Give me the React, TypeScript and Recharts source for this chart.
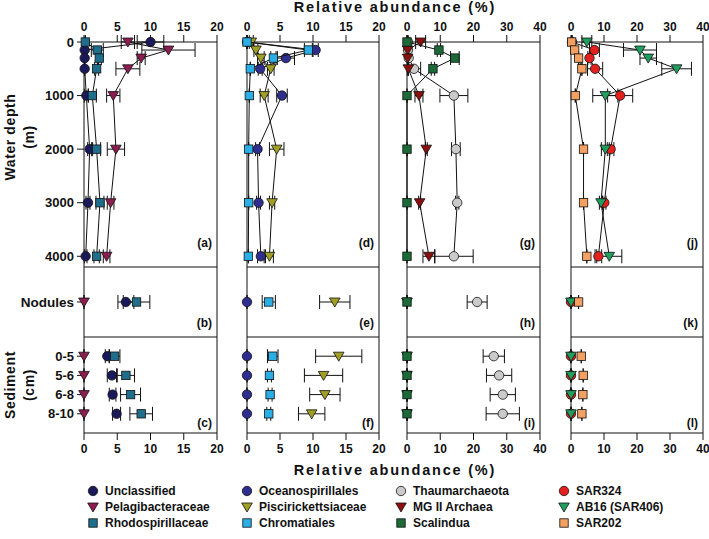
import React from 'react';
import { ScatterChart, Scatter, XAxis, YAxis, ErrorBar } from 'recharts';

const FONT = '"Liberation Sans", Arial, Helvetica, sans-serif';
const INK = '#111';

// depth profile rows (m), sediment layers (cm)
const depths = [0, 150, 300, 500, 1000, 2000, 3000, 4000];
const depthTicks = [0, 1000, 2000, 3000, 4000];
const sedimentLayers = ['0-5', '5-6', '6-8', '8-10'];
const ticks20 = [0, 5, 10, 15, 20];
const ticks40 = [0, 10, 20, 30, 40];

// relative abundance (%) — water column / nodules / sediment, with error
const unclassifiedWater = [10, 0.1, 0.1, 0.1, 0.35, 0.85, 0.6, 0.25];
const unclassifiedWaterErr = [2, 0, 0, 0, 0.3, 0.3, 0.3, 0.2];
const unclassifiedNod = [6.3, 1.2];
const unclassifiedSed = [3.5, 4.2, 4.3, 4.9];
const unclassifiedSedErr = [0.3, 0.7, 0.5, 0.6];

const pelagiWater = [6.6, 12.7, 8.6, 6.6, 4.4, 4.8, 4.0, 3.4];
const pelagiWaterErr = [1.0, 4, 0.6, 1.8, 1.0, 1.3, 0.5, 0.5];
const pelagiNod = [0, 0];
const pelagiSed = [0, 0, 0, 0];
const pelagiSedErr = [0, 0, 0, 0];

const rhodoWater = [0.2, 2.0, 2.3, 1.9, 1.25, 1.9, 2.4, 1.9];
const rhodoWaterErr = [0, 0.9, 0.3, 0.3, 0.6, 0.6, 0.6, 0.4];
const rhodoNod = [7.9, 2];
const rhodoSed = [4.6, 6.3, 7.0, 8.6];
const rhodoSedErr = [0.8, 1.3, 1.5, 1.7];

const oceanoWater = [0, 10.4, 5.9, 2.0, 5.3, 1.6, 1.75, 2.1];
const oceanoWaterErr = [0, 0.4, 1.3, 0.3, 0.8, 0.3, 0.3, 0.5];
const oceanoNod = [0, 0];
const oceanoSed = [0, 0, 0, 0];
const oceanoSedErr = [0, 0, 0, 0];

const pisciWater = [0.65, 1.35, 2.1, 3.6, 2.6, 4.5, 3.8, 3.4];
const pisciWaterErr = [0.3, 0.3, 0.5, 0.5, 0.6, 1.1, 0.4, 0.6];
const pisciNod = [13.3, 2.3];
const pisciSed = [13.9, 11.6, 11.8, 9.8];
const pisciSedErr = [3.5, 2.9, 2.3, 2.0];

const chromWater = [0, 9.3, 4.0, 0.5, 0.35, 0.25, 0.25, 0.2];
const chromWaterErr = [0, 0.6, 0.4, 0, 0, 0, 0, 0];
const chromNod = [3.3, 1];
const chromSed = [3.9, 3.4, 3.5, 3.3];
const chromSedErr = [0.8, 0.3, 0.3, 0.3];

const thaumWater = [0.3, 0.3, 0.5, 2.1, 14.1, 14.7, 15.1, 14.1];
const thaumWaterErr = [0, 0, 0, 2, 4.2, 1.3, 0.5, 5.8];
const thaumNod = [21.1, 3];
const thaumSed = [26.1, 27.7, 28.8, 28.8];
const thaumSedErr = [3.2, 3.8, 3.8, 5];

const mg2Water = [4.1, 0.2, 0.2, 0.4, 3.6, 5.8, 3.8, 6.6];
const mg2WaterErr = [1.5, 0, 0, 0, 1.2, 0.3, 0.3, 1.8];
const mg2Nod = [0, 0];
const mg2Sed = [0, 0, 0, 0];
const mg2SedErr = [0, 0, 0, 0];

const scalinduaWater = [0, 9.6, 14.4, 7.8, 0, 0, 0, 0];
const scalinduaWaterErr = [0, 0.5, 1.3, 0.5, 0, 0, 0, 0];
const scalinduaNod = [0, 0];
const scalinduaSed = [0, 0, 0, 0];
const scalinduaSedErr = [0, 0, 0, 0];

const sar324Water = [0.3, 7.1, 5.6, 7.3, 14.9, 12.0, 10.1, 8.3];
const sar324WaterErr = [0, 1.5, 0.5, 2.3, 3.8, 1.0, 0.5, 1.0];
const sar324Nod = [0, 0];
const sar324Sed = [0, 0, 0, 0];
const sar324SedErr = [0, 0, 0, 0];

const ab16Water = [4.8, 20.9, 23.4, 32, 10.4, 10.4, 9.1, 11.6];
const ab16WaterErr = [1.5, 5, 2.5, 4.5, 3.8, 1.2, 0.5, 3.8];
const ab16Nod = [0, 0];
const ab16Sed = [0, 0, 0, 0];
const ab16SedErr = [0, 0, 0, 0];

const sar202Water = [0.2, 1.1, 2.3, 3.3, 1.3, 3.8, 3.8, 4.8];
const sar202WaterErr = [0, 0, 0, 0, 0, 0, 0, 0];
const sar202Nod = [2.3, 0];
const sar202Sed = [3.1, 3.7, 3.6, 3.3];
const sar202SedErr = [0, 0, 0, 0];

type Kind = 'circle' | 'tri' | 'square';

const taxa = [
  { name: 'Unclassified', kind: 'circle', color: '#1a1a5a', water: unclassifiedWater, waterErr: unclassifiedWaterErr, nod: unclassifiedNod, sed: unclassifiedSed, sedErr: unclassifiedSedErr },
  { name: 'Pelagibacteraceae', kind: 'tri', color: '#8c1d50', water: pelagiWater, waterErr: pelagiWaterErr, nod: pelagiNod, sed: pelagiSed, sedErr: pelagiSedErr },
  { name: 'Rhodospirillaceae', kind: 'square', color: '#1f6e8c', water: rhodoWater, waterErr: rhodoWaterErr, nod: rhodoNod, sed: rhodoSed, sedErr: rhodoSedErr },
  { name: 'Oceanospirillales', kind: 'circle', color: '#2e2e8e', water: oceanoWater, waterErr: oceanoWaterErr, nod: oceanoNod, sed: oceanoSed, sedErr: oceanoSedErr },
  { name: 'Piscirickettsiaceae', kind: 'tri', color: '#a09e25', water: pisciWater, waterErr: pisciWaterErr, nod: pisciNod, sed: pisciSed, sedErr: pisciSedErr },
  { name: 'Chromatiales', kind: 'square', color: '#2aaee6', water: chromWater, waterErr: chromWaterErr, nod: chromNod, sed: chromSed, sedErr: chromSedErr },
  { name: 'Thaumarchaeota', kind: 'circle', color: '#cacaca', water: thaumWater, waterErr: thaumWaterErr, nod: thaumNod, sed: thaumSed, sedErr: thaumSedErr },
  { name: 'MG II Archaea', kind: 'tri', color: '#8a1010', water: mg2Water, waterErr: mg2WaterErr, nod: mg2Nod, sed: mg2Sed, sedErr: mg2SedErr },
  { name: 'Scalindua', kind: 'square', color: '#1b6a38', water: scalinduaWater, waterErr: scalinduaWaterErr, nod: scalinduaNod, sed: scalinduaSed, sedErr: scalinduaSedErr },
  { name: 'SAR324', kind: 'circle', color: '#e2211f', water: sar324Water, waterErr: sar324WaterErr, nod: sar324Nod, sed: sar324Sed, sedErr: sar324SedErr },
  { name: 'AB16 (SAR406)', kind: 'tri', color: '#1f9e5e', water: ab16Water, waterErr: ab16WaterErr, nod: ab16Nod, sed: ab16Sed, sedErr: ab16SedErr },
  { name: 'SAR202', kind: 'square', color: '#f3a062', water: sar202Water, waterErr: sar202WaterErr, nod: sar202Nod, sed: sar202Sed, sedErr: sar202SedErr },
];

const cols = [
  { x0: 84, x1: 217, max: 20, ticks: ticks20, members: [0, 1, 2], letters: ['(a)', '(b)', '(c)'] },
  { x0: 247, x1: 379, max: 20, ticks: ticks20, members: [3, 4, 5], letters: ['(d)', '(e)', '(f)'] },
  { x0: 407, x1: 540, max: 40, ticks: ticks40, members: [6, 7, 8], letters: ['(g)', '(h)', '(i)'] },
  { x0: 571, x1: 703, max: 40, ticks: ticks40, members: [9, 10, 11], letters: ['(j)', '(k)', '(l)'] },
];
const rows = [
  { y0: 42, y1: 267, letterY: 243 },
  { y0: 267, y1: 337, letterY: 323 },
  { y0: 337, y1: 433, letterY: 423 },
];

const Marker = ({ cx, cy, kind, fill }: { cx: number; cy: number; kind: Kind; fill: string }) => {
  if (kind === 'circle') return <circle cx={cx} cy={cy} r={4.7} fill={fill} stroke={INK} strokeWidth={0.8} />;
  if (kind === 'square') return <rect x={cx - 4.2} y={cy - 4.2} width={8.4} height={8.4} fill={fill} stroke={INK} strokeWidth={0.8} />;
  return (
    <polygon
      points={`${cx - 5.3},${cy - 4} ${cx + 5.3},${cy - 4} ${cx},${cy + 5}`}
      fill={fill}
      stroke={INK}
      strokeWidth={0.8}
    />
  );
};

const errPair = (v: number, e: number) => [Math.min(e, v), e];

const seriesData = (t: any, ri: number) => {
  if (ri === 0) return depths.map((d, i) => ({ x: t.water[i], y: d, err: errPair(t.water[i], t.waterErr[i]) }));
  if (ri === 1) return [{ x: t.nod[0], y: 1, err: errPair(t.nod[0], t.nod[1]) }];
  return sedimentLayers.map((_, i) => ({ x: t.sed[i], y: i + 1, err: errPair(t.sed[i], t.sedErr[i]) }));
};

// anchor point so the frame axes (bottom / right) get a domain and render
const frameAnchor = [{ x: 0, y: 0 }];

const tickFont = { fontSize: 12, fontWeight: 700, fill: INK, fontFamily: FONT };

function Panel({ ci, ri }: { ci: number; ri: number }) {
  const col = cols[ci];
  const row = rows[ri];
  const w = col.x1 - col.x0;
  const h = row.y1 - row.y0;
  const bottomArea = ri === 2 ? 40 : 10;

  let yProps: any;
  if (ri === 0) yProps = { domain: [0, 4200], ticks: depthTicks, reversed: true };
  else if (ri === 1) yProps = { domain: [0, 2], ticks: [1], tickFormatter: () => 'Nodules' };
  else yProps = { domain: [0, 5], ticks: [1, 2, 3, 4], reversed: true, tickFormatter: (v: number) => sedimentLayers[v - 1] };

  const yTick = ci === 0 ? { ...tickFont, fontSize: ri === 1 ? 13.5 : 13 } : false;

  return (
    <div style={{ position: 'absolute', left: col.x0 - 80, top: row.y0 - 40 }}>
      <ScatterChart
        width={80 + w + 10}
        height={40 + h + bottomArea}
        margin={{ top: 0, right: 8, bottom: ri === 2 ? 0 : 10, left: 0 }}
      >
        <XAxis
          xAxisId="t"
          orientation="top"
          type="number"
          dataKey="x"
          domain={[0, col.max]}
          ticks={col.ticks}
          interval={0}
          height={40}
          stroke={INK}
          tickSize={7}
          tickMargin={4}
          tick={ri === 0 ? tickFont : false}
        />
        <XAxis
          xAxisId="b"
          orientation="bottom"
          type="number"
          dataKey="x"
          domain={[0, col.max]}
          ticks={col.ticks}
          interval={0}
          height={ri === 2 ? 40 : 0}
          hide={ri !== 2}
          stroke={INK}
          tickSize={7}
          tickMargin={4}
          tick={tickFont}
        />
        <YAxis
          yAxisId="l"
          type="number"
          dataKey="y"
          width={80}
          interval={0}
          stroke={INK}
          tickSize={7}
          tickMargin={3}
          tick={yTick}
          {...yProps}
        />
        <YAxis
          yAxisId="r"
          orientation="right"
          type="number"
          dataKey="y"
          domain={[0, 1]}
          ticks={[0, 1]}
          width={2}
          stroke={INK}
          tickSize={0}
          tick={false}
          tickLine={false}
        />
        <Scatter
          xAxisId="b"
          yAxisId="r"
          data={frameAnchor}
          isAnimationActive={false}
          legendType="none"
          shape={() => <g />}
        />
        {col.members.map((ti) => {
          const t = taxa[ti];
          return (
            <Scatter
              key={t.name}
              name={t.name}
              xAxisId="t"
              yAxisId="l"
              data={seriesData(t, ri)}
              fill={t.color}
              line={ri === 0 ? { stroke: INK, strokeWidth: 1 } : false}
              isAnimationActive={false}
              shape={(p: any) => <Marker cx={p.cx} cy={p.cy} kind={t.kind as Kind} fill={t.color} />}
            >
              <ErrorBar dataKey="err" direction="x" width={7} stroke={INK} strokeWidth={1} isAnimationActive={false} />
            </Scatter>
          );
        })}
      </ScatterChart>
      <div
        style={{
          position: 'absolute',
          left: 80 + w - 57,
          width: 52,
          top: row.letterY - row.y0 + 40 - 8,
          textAlign: 'right',
          fontFamily: FONT,
          fontWeight: 700,
          fontSize: 12,
          lineHeight: '16px',
          color: INK,
        }}
      >
        {col.letters[ri]}
      </div>
    </div>
  );
}

const textBase: React.CSSProperties = {
  position: 'absolute',
  fontFamily: FONT,
  fontWeight: 700,
  color: INK,
  whiteSpace: 'nowrap',
};

const Rotated = ({ text, x, y }: { text: string; x: number; y: number }) => (
  <div
    style={{
      ...textBase,
      fontSize: 14,
      left: x,
      top: y,
      transform: 'translate(-50%, -50%) rotate(-90deg)',
      letterSpacing: 0.6,
    }}
  >
    {text}
  </div>
);

const legendX = [93, 247, 401, 564];
const legendY = [491, 507, 523];

export default function App() {
  return (
    <div style={{ position: 'absolute', left: 0, top: 0, width: 709, height: 539, background: '#fff', overflow: 'hidden' }}>
      {rows.map((_, ri) => cols.map((__, ci) => <Panel key={`${ri}-${ci}`} ci={ci} ri={ri} />))}

      <div style={{ ...textBase, fontSize: 14.5, left: 395, top: 7, transform: 'translate(-50%, -50%)', letterSpacing: 1.8 }}>
        Relative abundance (%)
      </div>
      <div style={{ ...textBase, fontSize: 14.5, left: 395, top: 470, transform: 'translate(-50%, -50%)', letterSpacing: 1.8 }}>
        Relative abundance (%)
      </div>

      <Rotated text="Water depth" x={10} y={137} />
      <Rotated text="(m)" x={29} y={137} />
      <Rotated text="Sediment" x={10} y={385} />
      <Rotated text="(cm)" x={29} y={385} />

      {taxa.map((t, i) => {
        const c = Math.floor(i / 3);
        const r = i % 3;
        return (
          <div key={t.name} style={{ position: 'absolute', left: legendX[c], top: legendY[r] }}>
            <svg width={12} height={12} style={{ position: 'absolute', left: -6, top: -6 }}>
              <Marker cx={6} cy={6} kind={t.kind as Kind} fill={t.color} />
            </svg>
            <div style={{ ...textBase, fontSize: 12, left: 12, top: -8, lineHeight: '16px' }}>{t.name}</div>
          </div>
        );
      })}
    </div>
  );
}
